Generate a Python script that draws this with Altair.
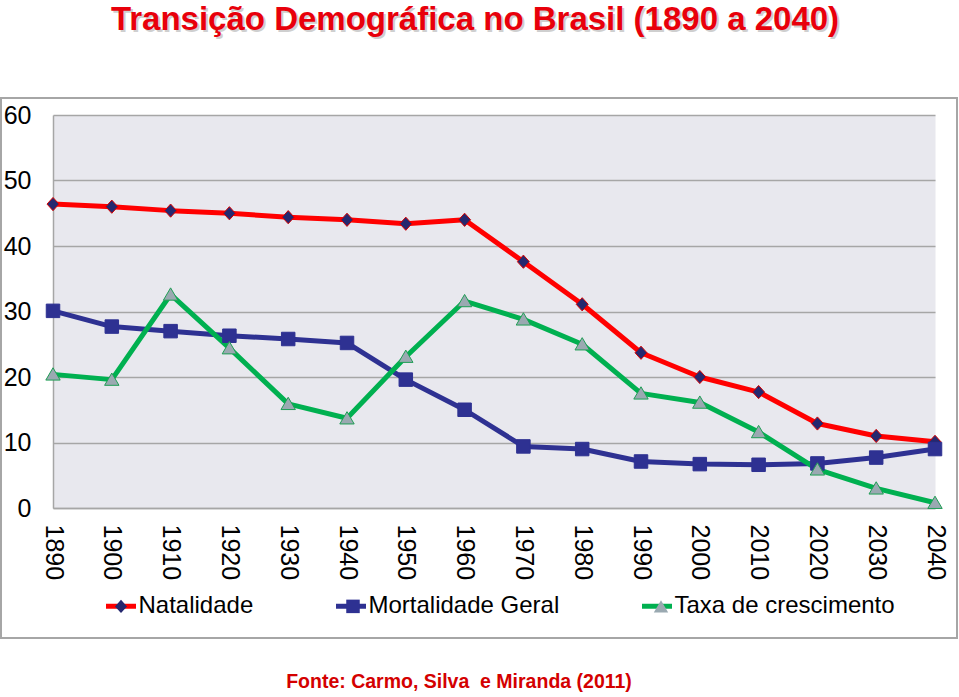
import altair as alt
import pandas as pd

# ---- data ----
anos = [1890, 1900, 1910, 1920, 1930, 1940, 1950, 1960, 1970, 1980, 1990, 2000, 2010, 2020, 2030, 2040]
natalidade = [46.4, 46.0, 45.4, 45.0, 44.4, 44.0, 43.4, 44.0, 37.6, 31.1, 23.7, 20.0, 17.7, 12.9, 11.0, 10.1]
mortalidade = [30.1, 27.7, 27.0, 26.3, 25.8, 25.2, 19.6, 15.0, 9.4, 9.0, 7.1, 6.7, 6.6, 6.8, 7.7, 9.0]
taxa = [20.4, 19.6, 32.6, 24.4, 15.9, 13.7, 23.1, 31.6, 28.8, 25.0, 17.5, 16.1, 11.6, 5.9, 3.0, 0.8]
series = ["Natalidade", "Mortalidade Geral", "Taxa de crescimento"]

titulo_txt = "Transição Demográfica no Brasil (1890 a 2040)"
fonte_txt = "Fonte: Carmo, Silva\u00a0 e Miranda (2011)"

# ---- styles ----
cores_linha = ["#ff0000", "#2e3192", "#00b050"]
cores_marcador = ["#25286f", "#2e3192", "#9aa9b1"]
# marker outlines, preceded by two bare move-to points so every legend symbol
# has the same horizontal extent as the line symbol (keeps the two legends aligned)
EXT = "M-1.1333,0M1.1333,0"
formas = [
    EXT + "M0,-0.44L0.4,0L0,0.44L-0.4,0Z",
    EXT + "M-0.45,-0.45H0.45V0.45H-0.45Z",
    EXT + "M0,-0.44L0.48,0.38L-0.48,0.38Z",
]
FONT = "'Liberation Sans', Arial, sans-serif"

rows = []
for i, a in enumerate(anos):
    for s, vals in zip(series, [natalidade, mortalidade, taxa]):
        rows.append({"ano": str(a), "serie": s, "valor": vals[i]})
df = pd.DataFrame(rows)

legend_comum = dict(
    orient="none", legendX=50.5, legendY=473.5, direction="horizontal", columns=3,
    columnPadding=72, symbolSize=900, symbolStrokeWidth=5, labelFont=FONT, labelFontSize=24,
    labelColor="#000000", labelLimit=400, labelOffset=0, padding=0, rowPadding=0,
)

x_enc = alt.X(
    "ano:O", title=None,
    scale=alt.Scale(type="point", padding=0),
    axis=alt.Axis(labelAngle=90, labelPadding=16, ticks=False, tickSize=0,
                  domain=True, domainColor="#a6a6a6", domainWidth=1.5, grid=False,
                  labelFont=FONT, labelFontSize=25, labelColor="#000000"),
)
y_enc = alt.Y(
    "valor:Q", title=None,
    scale=alt.Scale(domain=[0, 60], nice=False),
    axis=alt.Axis(values=[0, 10, 20, 30, 40, 50, 60], ticks=False, tickSize=0,
                  labelPadding=22, domain=True, domainColor="#a6a6a6", domainWidth=1.5,
                  grid=True, gridColor="#a6a6a6", gridWidth=1.5,
                  labelFont=FONT, labelFontSize=25, labelColor="#000000"),
)

linhas = alt.Chart(df).mark_line(strokeWidth=5, strokeJoin="round").encode(
    x=x_enc,
    y=y_enc,
    color=alt.Color("serie:N", sort=series, title=None,
                    scale=alt.Scale(range=cores_linha),
                    legend=alt.Legend(symbolType="stroke", **legend_comum)),
)

expr_borda = ("datum.serie == 'Natalidade' ? '#d80000' : "
              "(datum.serie == 'Mortalidade Geral' ? '#2e3192' : '#1f9e55')")
legenda_marcador = alt.Legend(labelOpacity=0, symbolStrokeColor="transparent", **legend_comum)
pontos = alt.Chart(df).transform_calculate(
    marcador="datum.serie", borda=expr_borda
).mark_point(filled=True, size=900, opacity=1, strokeWidth=1).encode(
    x=alt.X("ano:O"),
    y=alt.Y("valor:Q"),
    fill=alt.Fill("marcador:N", title=None,
                  scale=alt.Scale(domain=series, range=cores_marcador),
                  legend=legenda_marcador),
    shape=alt.Shape("marcador:N", title=None,
                    scale=alt.Scale(domain=series, range=formas),
                    legend=legenda_marcador),
    stroke=alt.Stroke("borda:N", scale=None, legend=None),
)

moldura = alt.Chart(pd.DataFrame({"k": [0]})).mark_rect(
    fill="transparent", stroke="#a6a6a6", strokeWidth=2
).encode(x=alt.value(-52), x2=alt.value(904), y=alt.value(-17), y2=alt.value(523))

titulo_df = pd.DataFrame({"t": [titulo_txt]})
sombra = alt.Chart(titulo_df).mark_text(
    font=FONT, fontSize=33, fontWeight="bold", color="#888888", opacity=0.4,
    align="center", baseline="alphabetic"
).encode(text="t:N", x=alt.value(424), y=alt.value(-83))
titulo = alt.Chart(titulo_df).mark_text(
    font=FONT, fontSize=33, fontWeight="bold", color="#e8000b",
    align="center", baseline="alphabetic"
).encode(text="t:N", x=alt.value(422), y=alt.value(-85))

fonte = alt.Chart(pd.DataFrame({"t": [fonte_txt]})).mark_text(
    font=FONT, fontSize=19.5, fontWeight="bold", color="#d40000",
    align="center", baseline="alphabetic"
).encode(text="t:N", x=alt.value(406), y=alt.value(573))

chart = alt.layer(moldura, linhas, pontos, sombra, titulo, fonte).properties(
    width=882, height=393,
    autosize=alt.AutoSizeParams(type="none"),
    padding={"left": 53, "top": 115, "right": 24, "bottom": 189},
    background="#ffffff",
).configure_view(fill="#e8e8ee", stroke="transparent")

chart.save("out.html", embed_options={"renderer": "svg", "actions": False})
